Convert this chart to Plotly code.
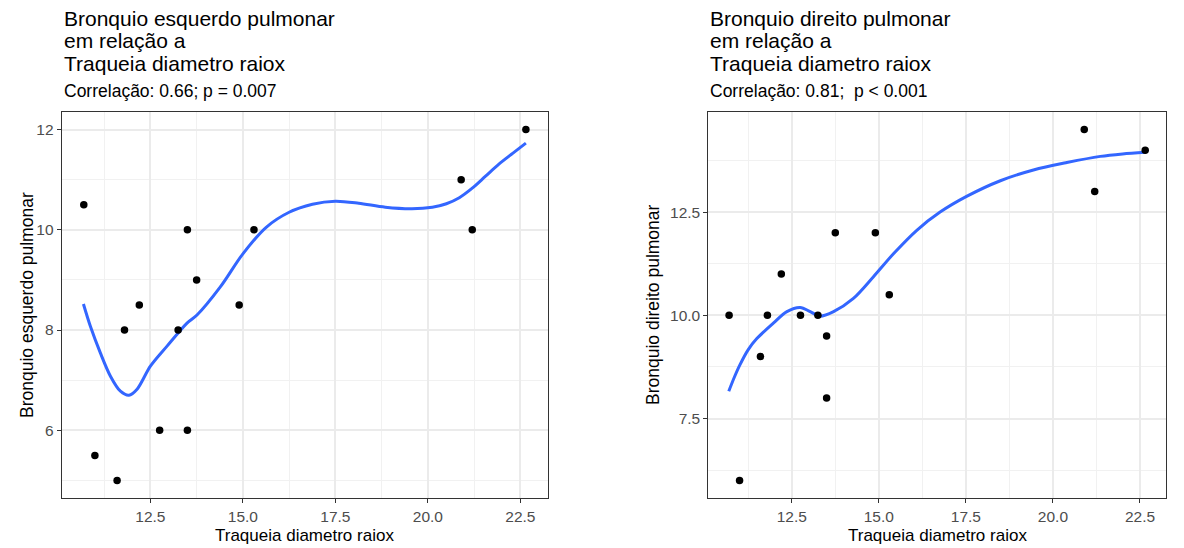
import plotly.graph_objects as go

# Traqueia diametro (raio-x) and bronchus diameters per patient
traqueia = [10.7, 11.0, 11.6, 11.8, 12.2, 12.75, 13.25, 13.5, 13.5, 13.75, 14.9, 15.3, 20.9, 21.2, 22.65]
bronquio_esq = [10.5, 5.5, 5.0, 8.0, 8.5, 6.0, 8.0, 10.0, 6.0, 9.0, 8.5, 10.0, 11.0, 10.0, 12.0]
bronquio_dir = [10.0, 6.0, 9.0, 10.0, 11.0, 10.0, 10.0, 9.5, 8.0, 12.0, 12.0, 10.5, 14.5, 13.0, 14.0]

# Loess smooth curves (x, fitted y)
smooth_esq_x = [10.69, 10.88, 11.15, 11.42, 11.69, 11.92, 12.14, 12.5, 12.95, 13.49, 13.76, 14.39,
                15.0, 15.63, 16.25, 16.88, 17.5, 18.13, 18.85, 19.57, 20.12, 20.5, 20.85, 21.2,
                21.56, 21.92, 22.3, 22.65]
smooth_esq_y = [8.52, 8.07, 7.54, 7.08, 6.78, 6.70, 6.82, 7.28, 7.68, 8.14, 8.30, 8.86,
                9.52, 10.05, 10.35, 10.51, 10.57, 10.53, 10.45, 10.42, 10.45, 10.52, 10.64, 10.83,
                11.07, 11.31, 11.53, 11.73]
smooth_dir_x = [10.69, 10.85, 11.01, 11.25, 11.49, 11.97, 12.36, 12.74, 13.03, 13.31, 13.70, 14.27,
                14.84, 15.42, 16.09, 16.76, 17.52, 18.49, 19.44, 20.40, 21.36, 22.0, 22.65]
smooth_dir_y = [8.16, 8.50, 8.80, 9.17, 9.43, 9.81, 10.09, 10.19, 10.09, 9.98, 10.09, 10.41,
                10.93, 11.49, 12.06, 12.50, 12.88, 13.26, 13.52, 13.70, 13.85, 13.91, 13.95]

titulos = [["Bronquio esquerdo pulmonar", "em relação a", "Traqueia diametro raiox"],
           ["Bronquio direito pulmonar", "em relação a", "Traqueia diametro raiox"]]
subtitulos = ["Correlação: 0.66; p = 0.007", "Correlação: 0.81;  p < 0.001"]
ylabels = ["Bronquio esquerdo pulmonar", "Bronquio direito pulmonar"]
xlabel = "Traqueia diametro raiox"

W, H = 1184, 548
FONT = "Liberation Sans, Arial, sans-serif"
BLUE = "#3366FF"


def expand(vals, frac=0.05):
    lo, hi = min(vals), max(vals)
    pad = (hi - lo) * frac
    return [lo - pad, hi + pad]


fig = go.Figure()

panels = [
    dict(xd=[61.7 / W, 548 / W], yvals=bronquio_esq, sx=smooth_esq_x, sy=smooth_esq_y,
         ydtick=2, yfmt="d", ytitle_x=27),
    dict(xd=[708.3 / W, 1166 / W], yvals=bronquio_dir, sx=smooth_dir_x, sy=smooth_dir_y,
         ydtick=2.5, yfmt=".1f", ytitle_x=653),
]
ydom = [1 - 498 / H, 1 - 112 / H]

for i, p in enumerate(panels):
    xa = "x" if i == 0 else "x2"
    ya = "y" if i == 0 else "y2"
    fig.add_trace(go.Scatter(x=p["sx"], y=p["sy"], mode="lines", xaxis=xa, yaxis=ya,
                             line=dict(color=BLUE, width=3, shape="spline", smoothing=0.9),
                             hoverinfo="skip", showlegend=False))
    fig.add_trace(go.Scatter(x=traqueia, y=p["yvals"], mode="markers", xaxis=xa, yaxis=ya,
                             marker=dict(color="black", size=7.5), showlegend=False))

    axis_common = dict(showline=True, linecolor="#333333", linewidth=1, mirror=True,
                       ticks="outside", ticklen=4, tickcolor="#333333", tickwidth=1,
                       gridcolor="#EBEBEB", gridwidth=1.6, zeroline=False,
                       tickfont=dict(family=FONT, size=15.5, color="#4D4D4D"))
    xkey = "xaxis" if i == 0 else "xaxis2"
    ykey = "yaxis" if i == 0 else "yaxis2"
    fig.update_layout(**{
        xkey: dict(domain=p["xd"], range=expand(traqueia), anchor=ya, tick0=0, dtick=2.5,
                   tickformat=".1f",
                   minor=dict(dtick=1.25, tick0=0, showgrid=True, gridcolor="#F1F1F1",
                              gridwidth=1, ticks=""),
                   **axis_common),
        ykey: dict(domain=ydom, range=expand(p["yvals"]), anchor=xa, tick0=0,
                   dtick=p["ydtick"], tickformat=p["yfmt"],
                   minor=dict(dtick=p["ydtick"] / 2, tick0=0, showgrid=True,
                              gridcolor="#F1F1F1", gridwidth=1, ticks=""),
                   **axis_common),
    })

    x0 = p["xd"][0]
    xc = (p["xd"][0] + p["xd"][1]) / 2
    # Title lines and subtitle above each panel
    for line, yc in zip(titulos[i], [18.0, 40.5, 63.5]):
        fig.add_annotation(text=line, xref="paper", yref="paper", x=x0, y=1 - yc / H,
                           xanchor="left", yanchor="middle", showarrow=False,
                           font=dict(family=FONT, size=21, color="black"))
    fig.add_annotation(text=subtitulos[i], xref="paper", yref="paper", x=x0, y=1 - 91.5 / H,
                       xanchor="left", yanchor="middle", showarrow=False,
                       font=dict(family=FONT, size=17.5, color="black"))
    # Axis titles
    fig.add_annotation(text=xlabel, xref="paper", yref="paper", x=xc, y=1 - 535.5 / H,
                       xanchor="center", yanchor="middle", showarrow=False,
                       font=dict(family=FONT, size=17, color="black"))
    fig.add_annotation(text=ylabels[i], xref="paper", yref="paper", x=p["ytitle_x"] / W,
                       y=(ydom[0] + ydom[1]) / 2, xanchor="center", yanchor="middle",
                       textangle=-90, showarrow=False,
                       font=dict(family=FONT, size=17.5, color="black"))

fig.update_layout(width=W, height=H, margin=dict(l=0, r=0, t=0, b=0),
                  paper_bgcolor="white", plot_bgcolor="white", showlegend=False)

fig.write_html("out.html")
